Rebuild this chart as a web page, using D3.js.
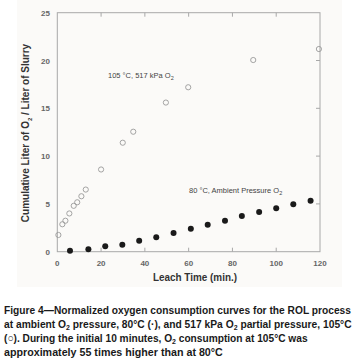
<!DOCTYPE html>
<html>
<head>
<meta charset="utf-8">
<script src="https://cdn.jsdelivr.net/npm/d3@7"></script>
<style>
  body { margin: 0; background: #fff; }
  svg { display: block; font-family: "Liberation Sans", Arial, sans-serif; }
</style>
</head>
<body>
<svg id="chart" width="360" height="363"></svg>
<script>
// 105 C, 517 kPa O2 (open circles)
const hiTime = [0.5, 2.3, 3.7, 5.5, 7.5, 9.1, 11, 13, 20, 29.9, 34.7, 49.6, 59.8, 89.5, 119.5];
const hiO2   = [1.75, 2.87, 3.24, 4.0, 4.8, 5.17, 5.8, 6.5, 8.6, 11.4, 12.55, 15.6, 17.2, 20.05, 21.2];

// 80 C, ambient pressure O2 (filled circles)
const loTime = [5.8, 14.2, 21.9, 29.7, 37.4, 45.2, 53.1, 61, 68.7, 76.6, 84.3, 92.2, 100, 107.8, 115.7];
const loO2   = [0.1, 0.25, 0.56, 0.73, 1.15, 1.5, 1.96, 2.4, 2.82, 3.24, 3.73, 4.15, 4.54, 4.96, 5.33];

const xTicks = [0, 20, 40, 60, 80, 100, 120];
const yTicks = [0, 5, 10, 15, 20, 25];

const captionLines = [
  [["Figure 4\u2014Normalized oxygen consumption curves for the ROL process"]],
  [["at ambient O"], ["2", "sub"], [" pressure, 80\u00b0C (\u00b7), and 517 kPa O"], ["2", "sub"], [" partial pressure, 105\u00b0C"]],
  [["(\u25cb). During the initial 10 minutes, O"], ["2", "sub"], [" consumption at 105\u00b0C was"]],
  [["approximately 55 times higher than at 80\u00b0C"]]
];
const captionWidths = [347, 348, 304, 219];

const svg = d3.select("#chart");
const plot = {left: 57.3, right: 320, top: 12.7, bottom: 251.7};

const x = d3.scaleLinear().domain([0, 120]).range([plot.left, plot.right]);
const y = d3.scaleLinear().domain([0, 25]).range([plot.bottom, plot.top]);

// light panel behind the chart
svg.append("rect")
  .attr("x", 17).attr("y", 0).attr("width", 325).attr("height", 287)
  .attr("fill", "#fbfaf8");

const axisColor = "#a8a8a8";

// frame
svg.append("rect")
  .attr("x", plot.left).attr("y", plot.top)
  .attr("width", plot.right - plot.left).attr("height", plot.bottom - plot.top)
  .attr("fill", "none").attr("stroke", axisColor).attr("stroke-width", 1);

// inward ticks on top, bottom and right
const inner = xTicks.slice(1, -1);
svg.append("g").selectAll("line.tb")
  .data(inner).enter().append("line")
  .attr("x1", d => x(d)).attr("x2", d => x(d))
  .attr("y1", plot.top).attr("y2", plot.top + 4)
  .attr("stroke", axisColor);
svg.append("g").selectAll("line.bt")
  .data(inner).enter().append("line")
  .attr("x1", d => x(d)).attr("x2", d => x(d))
  .attr("y1", plot.bottom).attr("y2", plot.bottom - 4)
  .attr("stroke", axisColor);
svg.append("g").selectAll("line.rt")
  .data(yTicks.slice(1, -1)).enter().append("line")
  .attr("x1", plot.right).attr("x2", plot.right - 4)
  .attr("y1", d => y(d)).attr("y2", d => y(d))
  .attr("stroke", axisColor);

// tick labels
svg.append("g").selectAll("text")
  .data(xTicks).enter().append("text")
  .attr("x", d => x(d)).attr("y", 266)
  .attr("text-anchor", "middle")
  .attr("font-size", 8).attr("font-weight", "bold").attr("fill", "#666")
  .text(d => d);
svg.append("g").selectAll("text")
  .data(yTicks).enter().append("text")
  .attr("x", 50).attr("y", d => y(d) + 3)
  .attr("text-anchor", "end")
  .attr("font-size", 8).attr("font-weight", "bold").attr("fill", "#666")
  .text(d => d);

// axis titles
svg.append("text")
  .attr("x", 195).attr("y", 281)
  .attr("text-anchor", "middle")
  .attr("font-size", 10).attr("font-weight", "bold").attr("fill", "#333")
  .attr("textLength", 84).attr("lengthAdjust", "spacingAndGlyphs")
  .text("Leach Time (min.)");

const yt = svg.append("text")
  .attr("transform", "translate(29,133) rotate(-90)")
  .attr("text-anchor", "middle")
  .attr("font-size", 10).attr("font-weight", "bold").attr("fill", "#333");
yt.append("tspan").text("Cumulative Liter of O");
yt.append("tspan").attr("dy", 3).attr("font-size", 6).text("2");
yt.append("tspan").attr("dy", -3).text(" / Liter of Slurry");

// series
svg.append("g").selectAll("circle")
  .data(d3.zip(hiTime, hiO2)).enter().append("circle")
  .attr("cx", d => x(d[0])).attr("cy", d => y(d[1]))
  .attr("r", 2.6).attr("fill", "none")
  .attr("stroke", "#9a9a9a").attr("stroke-width", 0.9);

svg.append("g").selectAll("circle")
  .data(d3.zip(loTime, loO2)).enter().append("circle")
  .attr("cx", d => x(d[0])).attr("cy", d => y(d[1]))
  .attr("r", 3).attr("fill", "#1a1a1a");

// series annotations
function note(tx, ty, main) {
  const t = svg.append("text")
    .attr("x", tx).attr("y", ty)
    .attr("font-size", 7.5).attr("fill", "#444");
  t.append("tspan").text(main);
  t.append("tspan").attr("dy", 1.5).attr("font-size", 5.5).text("2");
}
note(108, 78, "105 \u00b0C, 517 kPa O");
note(189, 193, "80 \u00b0C, Ambient Pressure O");

// caption: bold text squeezed horizontally to the measured line widths
const cap = svg.append("g");
captionLines.forEach((parts, i) => {
  const t = cap.append("text")
    .attr("x", 0).attr("y", 0)
    .attr("font-size", 11).attr("font-weight", "bold").attr("fill", "#1a1a1a");
  let prevSub = false;
  parts.forEach(p => {
    if (p[1] === "sub") {
      t.append("tspan").attr("dy", 1.8).attr("font-size", 7.5).text(p[0]);
      prevSub = true;
    } else {
      const s = t.append("tspan").text(p[0]);
      if (prevSub) s.attr("dy", -1.8);
      prevSub = false;
    }
  });
  const w = t.node().getComputedTextLength();
  t.attr("transform", `translate(4,${314 + i * 13.9}) scale(${captionWidths[i] / w},1)`);
});
</script>
</body>
</html>
